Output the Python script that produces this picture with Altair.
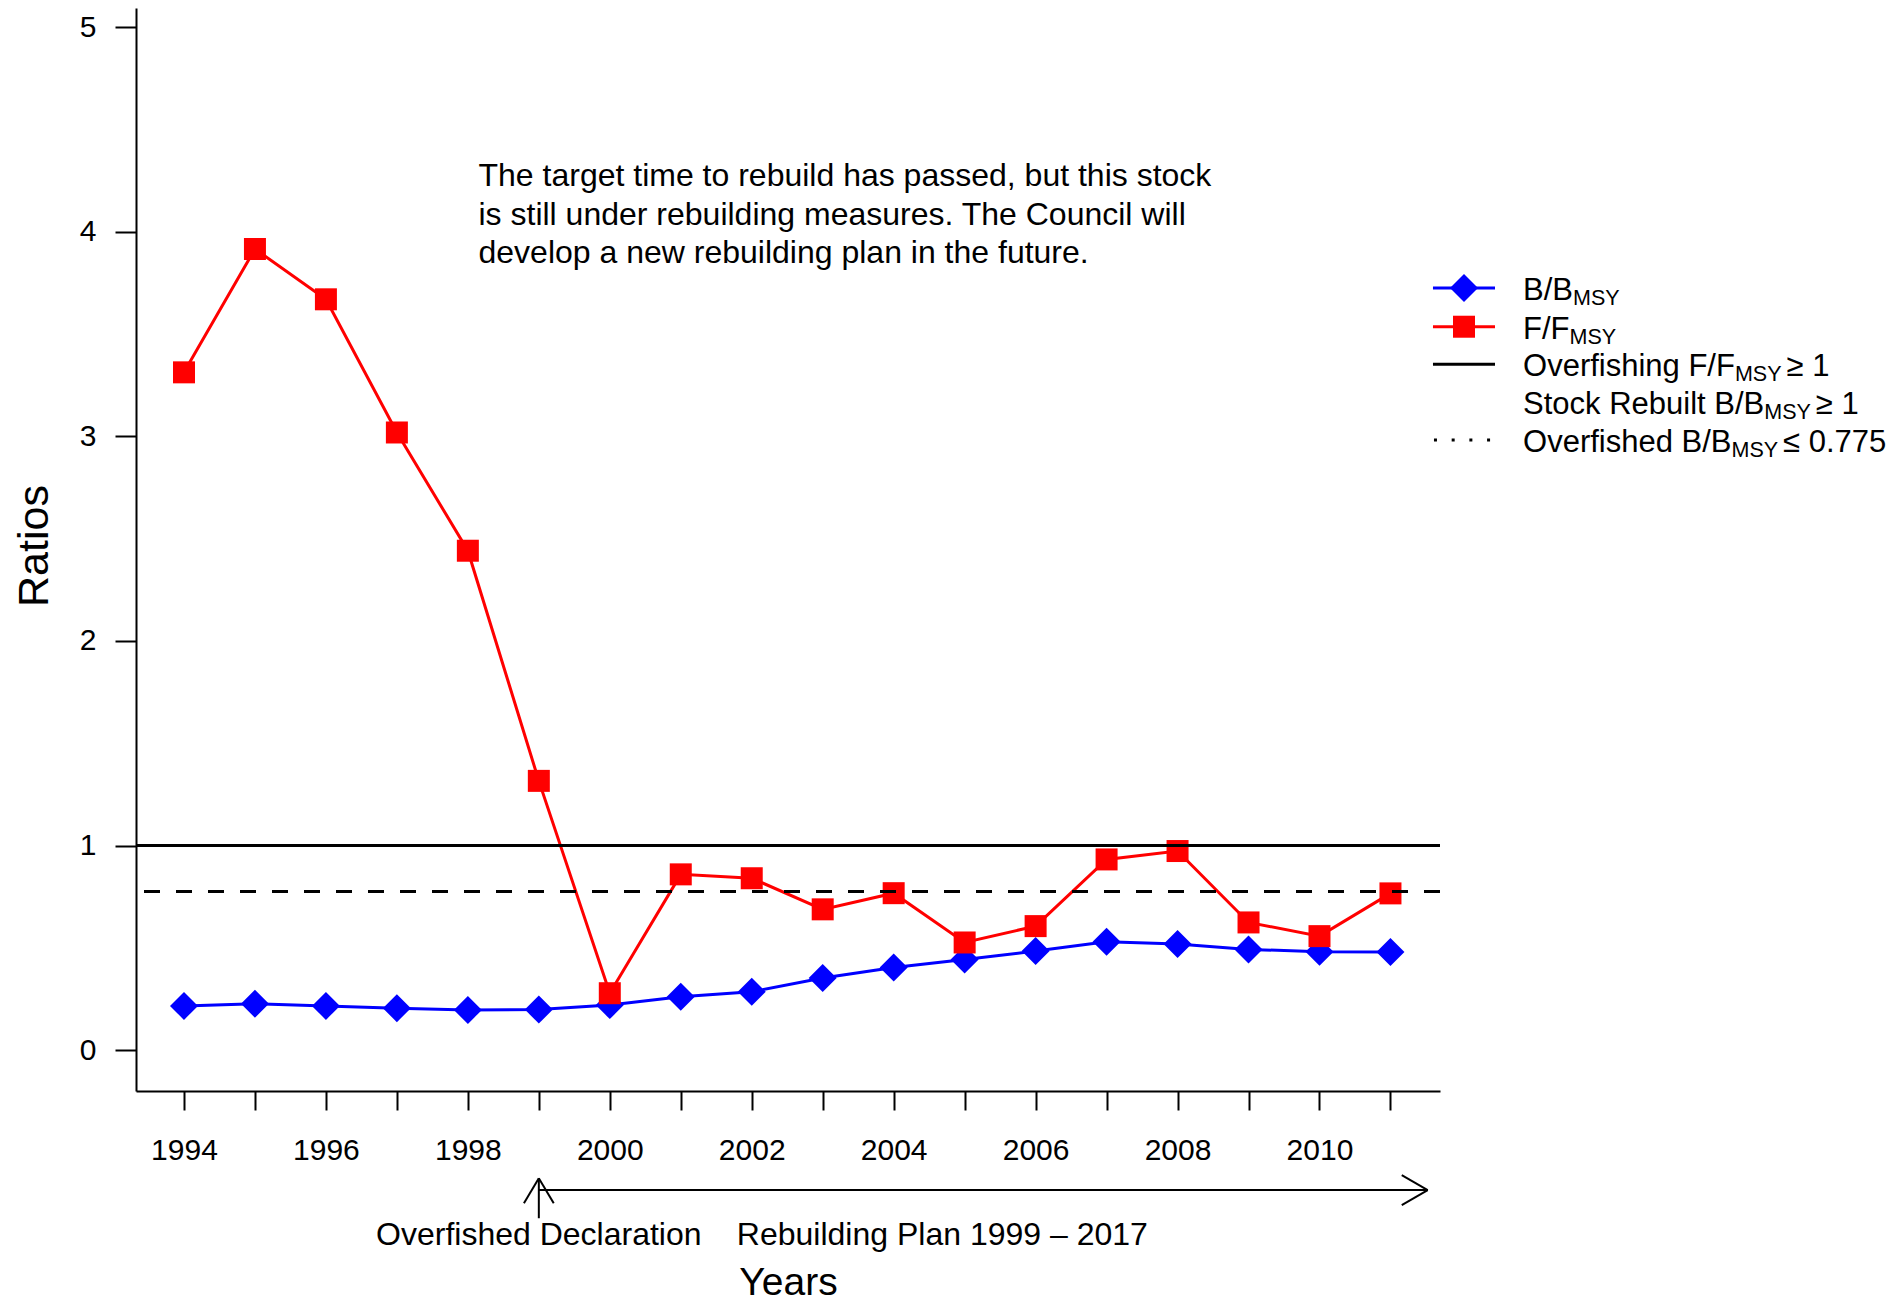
import altair as alt
import pandas as pd

# ---------------- data ----------------
years = list(range(1994, 2012))
b_bmsy = [0.216, 0.227, 0.216, 0.205, 0.196, 0.198, 0.220, 0.261, 0.285, 0.352,
          0.404, 0.443, 0.484, 0.530, 0.518, 0.492, 0.481, 0.479]
f_fmsy = [3.313, 3.916, 3.670, 3.019, 2.441, 1.316, 0.278, 0.859, 0.840, 0.688,
          0.767, 0.526, 0.606, 0.932, 0.973, 0.624, 0.557, 0.766]
overfishing_level = [1.0]
overfished_level = [0.775]

x_ticks = years
y_ticks = [0, 1, 2, 3, 4, 5]

note_lines = ["The target time to rebuild has passed, but this stock",
              "is still under rebuilding measures. The Council will",
              "develop a new rebuilding plan in the future."]
declaration_label = "Overfished Declaration"
plan_label = "Rebuilding Plan 1999 \u2013 2017"
declaration_year = 1999
arrow_end_year = 2011.525

legend_rows = [
    [("B/B", 0), ("MSY", 1)],
    [("F/F", 0), ("MSY", 1)],
    [("Overfishing F/F", 0), ("MSY", 1), ("\u2265 1", 0)],
    [("Stock Rebuilt B/B", 0), ("MSY", 1), ("\u2265 1", 0)],
    [("Overfished B/B", 0), ("MSY", 1), ("\u2264 0.775", 0)],
]

# ---------------- layout ----------------
W, H = 1304, 1083
X_DOMAIN = [1993.324, 2011.698]
Y_DOMAIN = [-0.2, 5.094]
PX_X = W / (X_DOMAIN[1] - X_DOMAIN[0])
PX_Y = H / (Y_DOMAIN[1] - Y_DOMAIN[0])
FONT = "Liberation Sans"
TXT = 32
LEG = 31
SUB = 21.5
BLUE = "#0000FF"
RED = "#FF0000"

# Arial advance widths (per 1000 em) for legend text layout
AW = {' ': 278, '/': 278, '.': 278, '0': 556, '1': 556, '5': 556, '7': 556,
      'B': 667, 'F': 611, 'M': 833, 'S': 667, 'Y': 667, 'O': 778, 'R': 722,
      'v': 500, 'e': 556, 'r': 333, 'f': 278, 'i': 222, 's': 500, 'h': 556,
      'n': 556, 'g': 556, 't': 278, 'o': 556, 'c': 500, 'k': 500, 'b': 556,
      'u': 556, 'l': 222, 'd': 556, '\u2265': 549, '\u2264': 549}


def text_width(s, size):
    return sum(AW.get(c, 556) for c in s) * size / 1000.0


xs = alt.Scale(domain=X_DOMAIN, nice=False, zero=False)
ys = alt.Scale(domain=Y_DOMAIN, nice=False, zero=False)

x_axis = alt.Axis(values=x_ticks, format="d",
                  labelExpr="datum.value % 2 == 0 ? datum.label : ''",
                  labelOverlap=False, labelFlush=False,
                  tickSize=19, tickWidth=2, tickColor="black",
                  domainColor="black", domainWidth=2,
                  labelFontSize=30, labelColor="black", labelFont=FONT,
                  labelPadding=25, grid=False,
                  title="Years", titleFont=FONT, titleFontSize=39,
                  titleFontWeight="normal", titleColor="black",
                  titleX=W / 2, titleY=203, titleAlign="center",
                  titleBaseline="alphabetic")
y_axis = alt.Axis(values=y_ticks, format="d",
                  tickSize=21, tickWidth=2, tickColor="black",
                  domainColor="black", domainWidth=2,
                  labelFontSize=30, labelColor="black", labelFont=FONT,
                  labelPadding=19, grid=False,
                  title="Ratios", titleFont=FONT, titleFontSize=43,
                  titleFontWeight="normal", titleColor="black",
                  titleAngle=270, titleX=-89, titleY=537.5,
                  titleAlign="center", titleBaseline="alphabetic")


def X(f):
    return alt.X(f"{f}:Q", scale=xs, axis=x_axis)


def Y(f):
    return alt.Y(f"{f}:Q", scale=ys, axis=y_axis)


df = pd.DataFrame({"year": years, "b": b_bmsy, "f": f_fmsy})

b_line = alt.Chart(df).mark_line(color=BLUE, strokeWidth=3).encode(x=X("year"), y=Y("b"))
b_pts = alt.Chart(df).mark_point(shape="diamond", filled=True, size=784, color=BLUE,
                                 opacity=1).encode(x=X("year"), y=Y("b"))
f_line = alt.Chart(df).mark_line(color=RED, strokeWidth=3).encode(x=X("year"), y=Y("f"))
f_pts = alt.Chart(df).mark_point(shape="square", filled=True, size=484, color=RED,
                                 opacity=1).encode(x=X("year"), y=Y("f"))

ref_solid = alt.Chart(pd.DataFrame({"v": overfishing_level})).mark_rule(
    color="black", strokeWidth=3).encode(y=Y("v"))
ref_dash = alt.Chart(pd.DataFrame({"v": overfished_level})).mark_rule(
    color="black", strokeWidth=3, strokeDash=[16, 16]).encode(y=Y("v"))

# ---- note text ----
note = alt.Chart(pd.DataFrame({"x": [1998.15], "y": [4.224]})).mark_text(
    text=note_lines, align="left", baseline="alphabetic", fontSize=TXT,
    lineHeight=38.7, font=FONT, color="black").encode(x=X("x"), y=Y("y"))

# ---- bottom arrows ----
arrow_y = -0.684
seg = pd.DataFrame({
    "x": [declaration_year, arrow_end_year - 0.366, arrow_end_year - 0.366,
          declaration_year, declaration_year - 0.21, declaration_year + 0.21],
    "y": [arrow_y, arrow_y + 0.073, arrow_y - 0.074, -0.822, -0.749, -0.749],
    "x2": [arrow_end_year, arrow_end_year, arrow_end_year,
           declaration_year, declaration_year, declaration_year],
    "y2": [arrow_y, arrow_y, arrow_y, -0.627, -0.627, -0.627],
})
arrows = alt.Chart(seg).mark_rule(color="black", strokeWidth=2).encode(
    x=X("x"), y=Y("y"), x2="x2:Q", y2="y2:Q")

decl = alt.Chart(pd.DataFrame({"x": [declaration_year], "y": [-0.953]})).mark_text(
    text=declaration_label, align="center", baseline="alphabetic", fontSize=TXT,
    font=FONT, color="black").encode(x=X("x"), y=Y("y"))
plan = alt.Chart(pd.DataFrame({"x": [2001.79], "y": [-0.953]})).mark_text(
    text=plan_label, align="left", baseline="alphabetic", fontSize=TXT,
    font=FONT, color="black").encode(x=X("x"), y=Y("y"))

# ---- legend ----
leg_y = [3.725, 3.536, 3.352, 3.170, 2.982]
leg_x0, leg_x1, leg_mid, leg_text_x = 2011.599, 2012.473, 2012.036, 2012.868

main_rows, sub_rows = [], []
for ry, row in zip(leg_y, legend_rows):
    base = ry - 12 / PX_Y
    off = 0.0
    for s, is_sub in row:
        if is_sub:
            sub_rows.append({"x": leg_text_x + off / PX_X, "y": base - 5 / PX_Y, "t": s})
            off += text_width(s, SUB) + 5
        else:
            main_rows.append({"x": leg_text_x + off / PX_X, "y": base, "t": s})
            off += text_width(s, LEG)

leg_main = alt.Chart(pd.DataFrame(main_rows)).mark_text(
    align="left", baseline="alphabetic", fontSize=LEG, font=FONT, color="black").encode(
    x=X("x"), y=Y("y"), text="t:N")
leg_sub = alt.Chart(pd.DataFrame(sub_rows)).mark_text(
    align="left", baseline="alphabetic", fontSize=SUB, font=FONT, color="black").encode(
    x=X("x"), y=Y("y"), text="t:N")

leg_lines_df = pd.DataFrame({
    "x": [leg_x0, leg_x0, leg_x0],
    "x2": [leg_x1, leg_x1, leg_x1],
    "y": [leg_y[0], leg_y[1], leg_y[2]],
    "c": [BLUE, RED, "black"],
})
leg_lines = alt.Chart(leg_lines_df).mark_rule(strokeWidth=3).encode(
    x=X("x"), x2="x2:Q", y=Y("y"), color=alt.Color("c:N", scale=None))
leg_dots = alt.Chart(pd.DataFrame({"x": [2011.613], "x2": [2012.42], "y": [leg_y[4]]})).mark_rule(
    strokeWidth=3, color="black", strokeDash=[3, 14.7]).encode(x=X("x"), x2="x2:Q", y=Y("y"))
leg_diamond = alt.Chart(pd.DataFrame({"x": [leg_mid], "y": [leg_y[0]]})).mark_point(
    shape="diamond", filled=True, size=784, color=BLUE, opacity=1).encode(x=X("x"), y=Y("y"))
leg_square = alt.Chart(pd.DataFrame({"x": [leg_mid], "y": [leg_y[1]]})).mark_point(
    shape="square", filled=True, size=484, color=RED, opacity=1).encode(x=X("x"), y=Y("y"))

chart = alt.layer(
    b_line, b_pts, f_line, f_pts, ref_solid, ref_dash, note, arrows, decl, plan,
    leg_lines, leg_dots, leg_diamond, leg_square, leg_main, leg_sub
).properties(
    width=W, height=H,
    autosize=alt.AutoSizeParams(type="none"),
    padding={"left": 128, "top": 0, "right": 450, "bottom": 210},
).configure(font=FONT).configure_view(strokeWidth=0, stroke="transparent")

chart.save("out.html", embed_options={"renderer": "svg", "actions": False})
